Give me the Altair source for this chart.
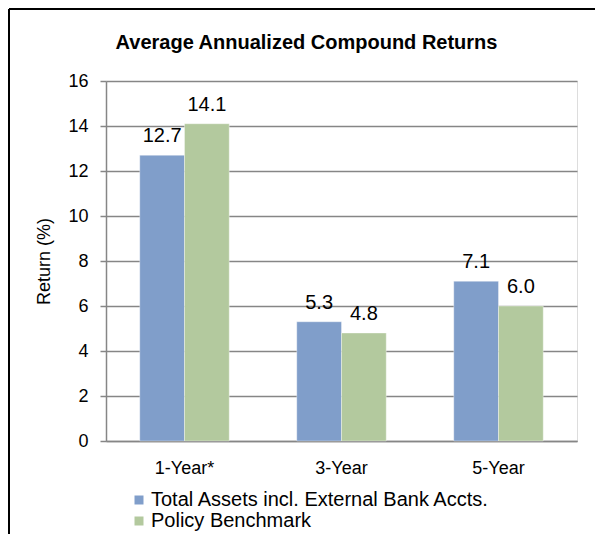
import altair as alt
import pandas as pd

categories = ["1-Year*", "3-Year", "5-Year"]
series_names = ["Total Assets incl. External Bank Accts.", "Policy Benchmark"]
total_assets = [12.7, 5.3, 7.1]
benchmark = [14.1, 4.8, 6.0]
colors = ["#809ECA", "#B3C99E"]

rows = []
for c, v in zip(categories, total_assets):
    rows.append({"Period": c, "Series": series_names[0], "Return": v, "Label": f"{v:.1f}"})
for c, v in zip(categories, benchmark):
    rows.append({"Period": c, "Series": series_names[1], "Return": v, "Label": f"{v:.1f}"})
df = pd.DataFrame(rows)

FONT = "Liberation Sans"
FS = 18
FL = 20

x_enc = alt.X("Period:N", sort=categories, title=None,
              scale=alt.Scale(paddingInner=0.43, paddingOuter=0.215),
              axis=alt.Axis(labelAngle=0, ticks=False, labelPadding=18, labelFontSize=FS,
                            labelColor="#000000", labelFont=FONT, domainColor="#868686",
                            domainWidth=1.5))
xoff = alt.XOffset("Series:N", sort=series_names)

bars = alt.Chart(df).mark_bar(stroke="#ffffff", strokeWidth=0.6, strokeOpacity=0.6).encode(
    x=x_enc,
    xOffset=xoff,
    y=alt.Y("Return:Q", title="Return (%)",
            scale=alt.Scale(domain=[0, 16], nice=False),
            axis=alt.Axis(values=list(range(0, 17, 2)), tickSize=6, labelPadding=12,
                          labelFontSize=FS, labelColor="#000000", labelFont=FONT,
                          titleFont=FONT, titleFontSize=FS, titleFontWeight="normal",
                          titleColor="#000000", titlePadding=14,
                          grid=True, gridColor="#868686", gridWidth=1.5,
                          domainColor="#868686", domainWidth=1.5,
                          tickColor="#868686", tickWidth=1.5)),
    color=alt.Color("Series:N", sort=series_names,
                    scale=alt.Scale(domain=series_names, range=colors),
                    legend=alt.Legend(title=None, orient="none", legendX=23, legendY=409,
                                      symbolType="square", symbolSize=81, symbolStrokeWidth=0,
                                      labelFont=FONT, labelFontSize=FL, labelColor="#000000",
                                      labelOffset=2, rowPadding=1, padding=0, labelLimit=0)),
)

labels = alt.Chart(df).mark_text(baseline="alphabetic", dy=-13, fontSize=FL, font=FONT,
                                 color="#000000").encode(
    x=alt.X("Period:N", sort=categories),
    xOffset=xoff,
    y=alt.Y("Return:Q"),
    text="Label:N",
)

# frame edges (the reference shows only the top and left edges of the chart border)
frame_top = alt.Chart(alt.Data(values=[{}])).mark_rule(color="#000000", strokeWidth=2).encode(
    x=alt.value(-97), x2=alt.value(489), y=alt.value(-72)
)
frame_left = alt.Chart(alt.Data(values=[{}])).mark_rule(color="#000000", strokeWidth=2).encode(
    x=alt.value(-97), y=alt.value(-72), y2=alt.value(453)
)

chart = alt.layer(frame_top, frame_left, bars, labels).properties(
    width=471, height=360,
    padding={"left": 98, "top": 73, "right": 18, "bottom": 93},
    autosize=alt.AutoSizeParams(type="none"),
    title=alt.TitleParams("Average Annualized Compound Returns", font=FONT, fontSize=20,
                          fontWeight="bold", color="#000000", anchor="middle", dx=-35,
                          offset=-45),
).configure_view(stroke=None).configure(background="#ffffff")

chart.save("out.html", embed_options={"renderer": "svg", "actions": False})
